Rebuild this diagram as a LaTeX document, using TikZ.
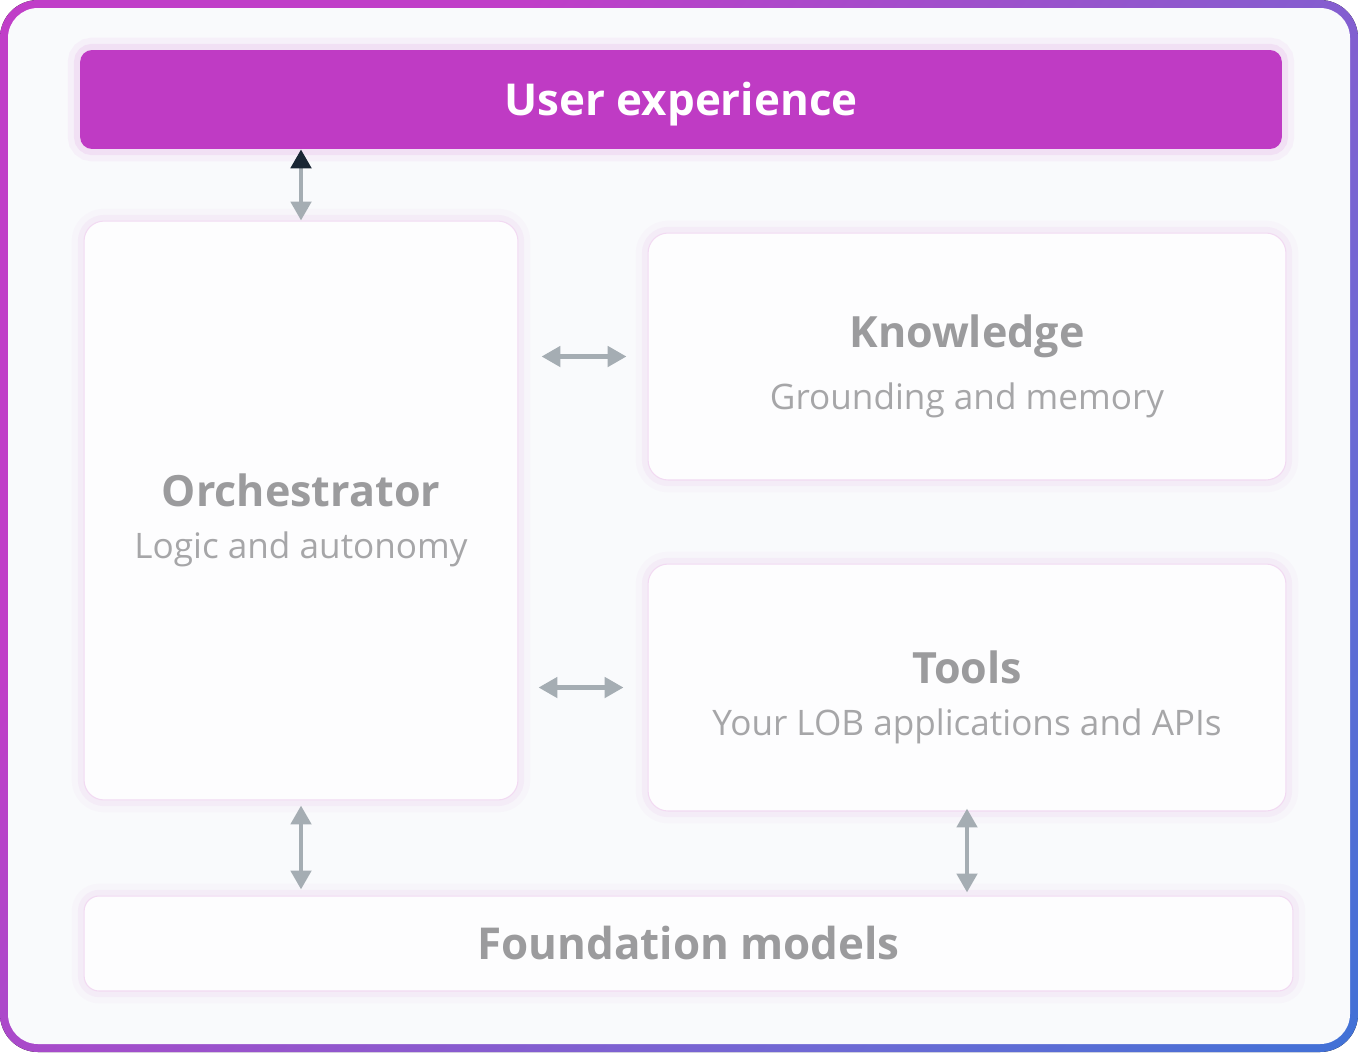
\documentclass[tikz,border=0pt]{standalone}
\usepackage{fontspec}
\setmainfont{Open Sans}
\usetikzlibrary{arrows.meta,positioning}
\definecolor{uxmagenta}{RGB}{191,59,196}
\definecolor{framepurple}{RGB}{192,62,200}
\definecolor{frameviolet}{RGB}{150,84,204}
\definecolor{frameindigo}{RGB}{110,105,212}
\definecolor{frameblue}{RGB}{24,120,216}
\definecolor{panelbg}{RGB}{249,250,252}
\definecolor{boxfill}{RGB}{253,253,254}
\definecolor{boxline}{RGB}{242,218,242}
\definecolor{glowpink}{RGB}{222,160,226}
\definecolor{titlegray}{RGB}{155,155,157}
\definecolor{subgray}{RGB}{166,166,168}
\definecolor{arrowgray}{RGB}{165,173,179}
\definecolor{tipdark}{RGB}{26,38,52}
\pgfdeclarehorizontalshading{framegrad}{100bp}{color(0bp)=(framepurple); color(32bp)=(framepurple); color(50bp)=(frameviolet); color(68bp)=(frameindigo); color(100bp)=(frameblue)}
\tikzset{
  panelbox/.style={draw=boxline, line width=0.6pt, fill=boxfill, rectangle, rounded corners=0.4cm,
    preaction={draw=glowpink, line width=14pt, draw opacity=0.05},
    preaction={draw=glowpink, line width=7pt, draw opacity=0.1}},
  twoway/.style={draw=arrowgray, line width=2.8pt,
    {Triangle[length=10.8pt,width=11.4pt]}-{Triangle[length=10.8pt,width=11.4pt]}}
}
\newcommand{\boxhead}[1]{{\fontsize{24.5}{29}\selectfont\bfseries\color{titlegray}\rule{0pt}{30pt}#1}}
\newcommand{\subline}[1]{{\fontsize{20}{24}\selectfont\color{subgray}#1}}
\begin{document}
\begin{tikzpicture}[x=0.02cm, y=-0.02cm]
  \useasboundingbox (0,0) rectangle (1358,1052);
  % Frame
  \fill[shading=framegrad, shading angle=-38] (0,0) [rounded corners=0.76cm] rectangle (1358,1052);
  \fill[panelbg, rounded corners=0.6cm] (8,8) rectangle (1350,1044);

  % User experience bar
  \node[rectangle, fill=uxmagenta, rounded corners=0.24cm, minimum width=24.04cm, minimum height=1.98cm,
    preaction={draw=glowpink, line width=14pt, draw opacity=0.1},
    preaction={draw=glowpink, line width=7pt, draw opacity=0.2},
    text=white, font=\fontsize{25}{30}\selectfont\bfseries, text height=17.9pt, text depth=0pt] (ux) at (681,99.5) {User experience};

  % Boxes
  \node[panelbox, minimum width=8.68cm, minimum height=11.58cm, align=center] (orch) at (301,510.5)
    {\boxhead{Orchestrator}\\[0.45cm]\subline{Logic and autonomy}};
  \node[panelbox, minimum width=12.76cm, minimum height=4.94cm, align=center] (know) at (967,356.5)
    {\boxhead{Knowledge}\\[0.45cm]\subline{Grounding and memory}};
  \node[panelbox, minimum width=12.76cm, minimum height=4.94cm, align=center] (tools) at (967,687.5)
    {\boxhead{Tools}\\[0.45cm]\subline{Your LOB applications and APIs}};
  \node[panelbox, rounded corners=0.3cm, minimum width=24.18cm, minimum height=1.9cm, text=titlegray,
    font=\fontsize{25}{30}\selectfont\bfseries, text height=17.9pt, text depth=0pt] (found) at (688.5,943.5) {Foundation models};

  % Arrows
  \draw[draw=arrowgray, line width=2.8pt,
    {Triangle[length=10.8pt,width=11.4pt]}-{Triangle[length=10.8pt,width=11.4pt,color=tipdark]}] (orch.north) -- (orch.north |- ux.south);
  \draw[twoway, shorten <=0.46cm, shorten >=0.42cm] (know.west -| orch.east) -- (know.west);
  \draw[twoway, shorten <=0.4cm, shorten >=0.48cm] (tools.west -| orch.east) -- (tools.west);
  \draw[twoway, shorten <=0.1cm, shorten >=0.12cm] (orch.south) -- (orch.south |- found.north);
  \draw[twoway, shorten <=-0.06cm, shorten >=0.06cm] (tools.south) -- (tools.south |- found.north);
\end{tikzpicture}
\end{document}
